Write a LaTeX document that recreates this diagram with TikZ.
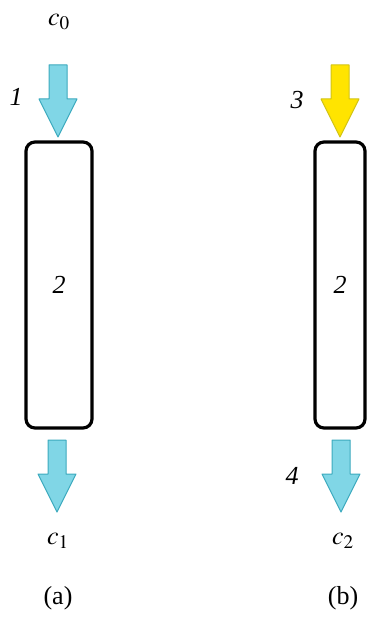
\documentclass[tikz,border=0pt]{standalone}
\usepackage{mathptmx}
\usepackage{fontspec}
\setmainfont{Liberation Serif}
\usepackage{tikz}
\usetikzlibrary{shapes,arrows,positioning,calc}

\definecolor{flowcyan}{RGB}{128,214,230}
\definecolor{flowcyanedge}{RGB}{60,170,190}
\definecolor{flowyellow}{RGB}{255,228,0}
\definecolor{flowyellowedge}{RGB}{210,195,20}

\begin{document}
\begin{tikzpicture}[
      x=1pt, y=-1pt,
      column/.style={rectangle, draw, line width=3.2pt, rounded corners=9pt, minimum width=66pt, minimum height=286pt},
      flowarrow/.pic={\path[pic actions, line width=1pt, line join=round] (-9,0) -- (9,0) -- (9,34) -- (19,34) -- (0,72) -- (-19,34) -- (-9,34) -- cycle;},
      cyanflow/.style={fill=flowcyan, draw=flowcyanedge},
      yellowflow/.style={fill=flowyellow, draw=flowyellowedge},
      lbl/.style={font=\fontsize{26}{30}\selectfont\itshape},
      txt/.style={font=\fontsize{26}{30}\selectfont}
    ]
      \useasboundingbox (0,0) rectangle (367,617);

      % (a): column with inlet and outlet
      \node[column] (colA) at (59,285) {};
      \node[lbl] at (colA) {2};
      \pic[cyanflow] (inA) at (58,65) {flowarrow};
      \pic[cyanflow] (outA) at (57,440) {flowarrow};
      \node[txt] (cA0) at (59,22) {$c_0$};
      \node[txt] (cA1) at (58,541) {$c_1$};
      \node[lbl] (nA1) at (16,97) {1};
      \node[txt] (capA) at (58,598) {(a)};

      % (b): column with second inlet and outlet
      \node[column, minimum width=50pt] (colB) at (340,285) {};
      \node[lbl] at (colB) {2};
      \pic[yellowflow] (inB) at (340,65) {flowarrow};
      \pic[cyanflow] (outB) at (341,440) {flowarrow};
      \node[txt] (cB2) at (343,541) {$c_2$};
      \node[lbl] (nB3) at (297,100) {3};
      \node[lbl] (nB4) at (292,476) {4};
      \node[txt] (capB) at (343,598) {(b)};
    \end{tikzpicture}
\end{document}
